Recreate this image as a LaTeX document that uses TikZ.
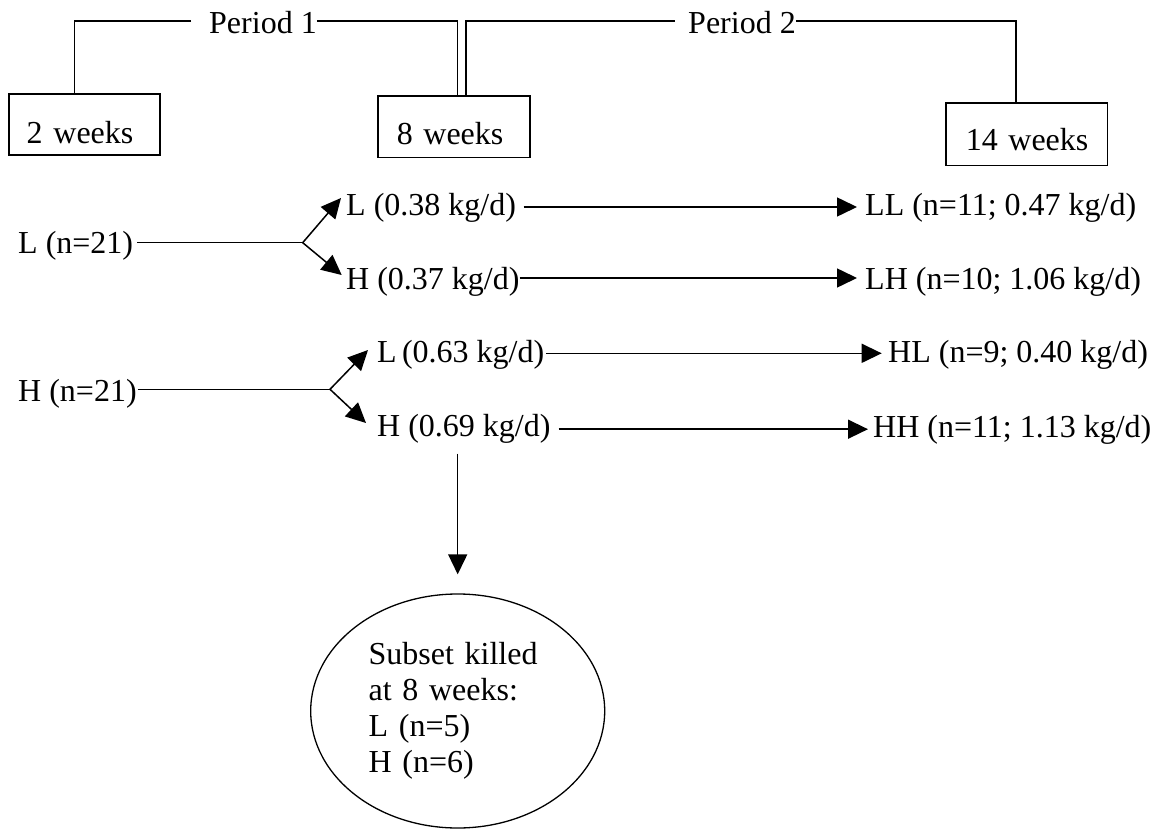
\documentclass[tikz,border=0pt]{standalone}
\usepackage{fontspec}
\setmainfont{Liberation Serif}
\usetikzlibrary{arrows.meta,shapes.geometric}
\begin{document}
\begin{tikzpicture}[x=1pt,y=-1pt,
  every node/.style={font=\fontsize{32}{36}\selectfont, inner sep=0pt},
  lbl/.style={anchor=base west, text height=22pt, text depth=7pt},
  wkbox/.style={draw, line width=1.5pt, anchor=north west, align=left},
  conn/.style={line width=1.5pt},
  arr/.style={conn, -{Triangle[length=20pt,width=19pt]}},
]
\useasboundingbox (0,0) rectangle (1159,829);

% period boxes
\node[wkbox, inner xsep=17.6pt, text width=115.4pt, text height=49.5pt, text depth=11.5pt] (b2) at (8.4,93.5) {\mbox{2 weeks}};
\node[wkbox, inner xsep=19pt, text width=114pt, text height=48.5pt, text depth=13pt] (b8) at (377,95.5) {\mbox{8 weeks}};
\node[wkbox, inner xsep=20pt, text width=121.5pt, text height=47.5pt, text depth=15pt] (b14) at (945,102.5) {\mbox{14 weeks}};

\node[lbl] (P1) at (209,34) {Period 1};
\node[lbl] (P2) at (688,34) {Period 2};

\draw[conn] ([xshift=-18pt,yshift=5.5pt]P1.west) -| ([xshift=-10.2pt]b2.north);
\draw[conn] ([yshift=5.5pt]P1.east) -| ([xshift=3.5pt]b8.north);
\draw[conn] ([xshift=12pt]b8.north) |- ([xshift=-13pt,yshift=5.5pt]P2.west);
\draw[conn] ([yshift=5.5pt]P2.east) -| ([xshift=-10.75pt]b14.north);

% groups
\node[lbl] (LN) at (18,253) {L (n=21)};
\node[lbl] (HN) at (18,401.7) {H (n=21)};
\node[lbl] (l1) at (346,216) {L (0.38 kg/d)};
\node[lbl] (h1) at (346,289) {H (0.37 kg/d)};
\node[lbl] (l2) at (377,362.7) {L\,(0.63 kg/d)};
\node[lbl] (h2) at (377,436.7) {H (0.69 kg/d)};
\node[lbl] (LL) at (865,216) {LL (n=11; 0.47 kg/d)};
\node[lbl] (LH) at (865,289) {LH (n=10; 1.06 kg/d)};
\node[lbl] (HL) at (888,362.7) {HL (n=9; 0.40 kg/d)};
\node[lbl] (HH) at (873,437) {HH (n=11; 1.13 kg/d)};

\coordinate (bL) at (302.7,242.7);
\coordinate (bH) at (330,389.3);

\draw[conn, shorten <=4pt] (LN.east |- bL) -- (bL);
\draw[arr] (bL) -- ([xshift=-5pt,yshift=18pt]l1.base west);
\draw[arr] (bL) -- ([xshift=-4.3pt,yshift=14pt]h1.base west);
\draw[conn, shorten <=1pt] (HN.east |- bH) -- (bH);
\draw[arr] (bH) -- ([xshift=-9pt,yshift=12.7pt]l2.base west);
\draw[arr] (bH) -- ([xshift=-11pt,yshift=13.7pt]h2.base west);

\draw[arr, shorten <=7.5pt, shorten >=8pt] ([yshift=1.5pt]l1.east) -- ([yshift=1.5pt]LL.west);
\draw[arr, shorten >=8pt] ([yshift=3.5pt]h1.east) -- ([yshift=3.5pt]LH.west);
\draw[arr, shorten <=2pt, shorten >=6.3pt] ([yshift=1.9pt]l2.east) -- ([yshift=1.9pt]HL.west);
\draw[arr, shorten <=8pt, shorten >=5pt] (h2.east) -- (h2.east -| HH.west);

% subset
\node[draw, ellipse, line width=1.3pt, minimum width=294pt, minimum height=234pt, text width=178pt, align=left] (E) at (457.7,711) {Subset killed\\at 8 weeks:\\L (n=5)\\H (n=6)};
\draw[arr, shorten <=9.6pt, shorten >=19pt] (E.north |- h2.south) -- (E.north);
\end{tikzpicture}
\end{document}
